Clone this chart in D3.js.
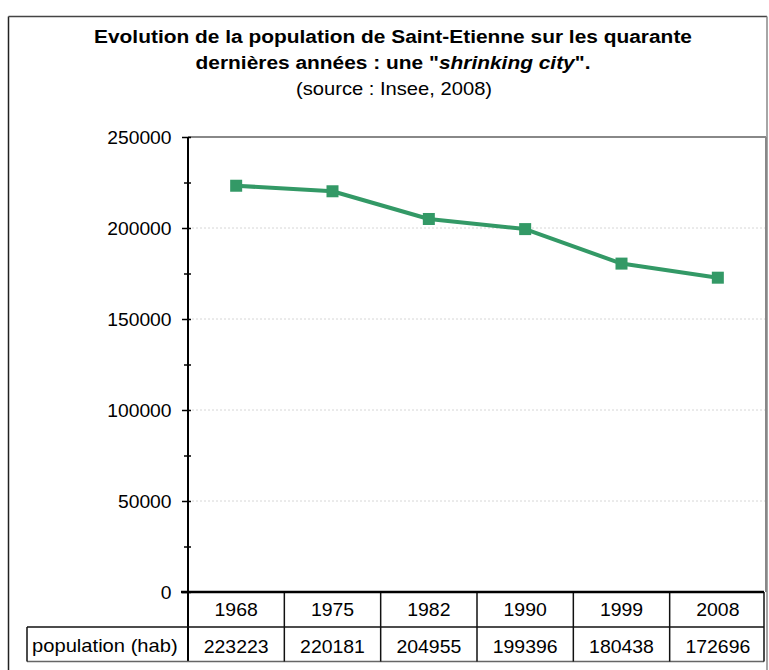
<!DOCTYPE html>
<html><head><meta charset="utf-8">
<script src="https://cdn.jsdelivr.net/npm/d3@7"></script>
<style>
html,body{margin:0;padding:0;background:#fff;}
svg{display:block;}
text{font-family:"Liberation Sans",Arial,sans-serif;fill:#000;}
</style></head>
<body>
<script>
const years = ["1968","1975","1982","1990","1999","2008"];
const population = [223223, 220181, 204955, 199396, 180438, 172696];
const yMajorTicks = [0, 50000, 100000, 150000, 200000, 250000];
const yMinorTicks = [25000, 75000, 125000, 175000, 225000];
const rowLabel = "population (hab)";
const titleLine1 = "Evolution de la population de Saint-Etienne sur les quarante";
const titleLine2a = "dernières années : une \"";
const titleLine2b = "shrinking city";
const titleLine2c = "\".";
const titleLine3 = "(source : Insee, 2008)";

const W = 769, H = 670, SX = 1.1;
const svg = d3.select("body").append("svg").attr("width", W).attr("height", H);

// outer chart border
svg.append("line").attr("x1", 8.5).attr("x2", 8.5).attr("y1", 16.5).attr("y2", H).attr("stroke", "#222").attr("stroke-width", 1.5);
svg.append("line").attr("x1", 8.5).attr("x2", 767).attr("y1", 16.5).attr("y2", 16.5).attr("stroke", "#444").attr("stroke-width", 1.5);
svg.append("line").attr("x1", 767).attr("x2", 767).attr("y1", 16.5).attr("y2", H).attr("stroke", "#888").attr("stroke-width", 1.5);

function txt(parent, x, y, s, opts = {}) {
  const t = parent.append("text")
    .attr("transform", `translate(${x},${y}) scale(${opts.sx || SX},1)`)
    .attr("text-anchor", opts.anchor || "middle")
    .style("font-size", (opts.size || 18) + "px")
    .style("font-weight", opts.weight || "normal");
  if (s !== null) t.text(s);
  return t;
}

// titles
txt(svg, 393, 43, titleLine1, {size: 19, weight: "bold", sx: 1.1});
const t2 = txt(svg, 393, 69, null, {size: 19, weight: "bold", sx: 1.1});
t2.append("tspan").text(titleLine2a);
t2.append("tspan").style("font-style", "italic").text(titleLine2b);
t2.append("tspan").text(titleLine2c);
txt(svg, 394, 95, titleLine3, {size: 18, sx: 1.12});

// scales
const pLeft = 188, pRight = 766, pTop = 137, pBottom = 592;
const x = d3.scaleBand().domain(years).range([pLeft, pRight]).padding(0);
const y = d3.scaleLinear().domain([0, 250000]).range([pBottom, pTop]);

// gridlines
svg.append("g").selectAll("line").data(yMajorTicks.filter(v => v > 0 && v < 250000)).join("line")
  .attr("x1", pLeft).attr("x2", pRight).attr("y1", d => y(d)).attr("y2", d => y(d))
  .attr("stroke", "#d6d6d6").attr("stroke-width", 1).attr("stroke-dasharray", "2,2");
// plot area border top/right
svg.append("line").attr("x1", pLeft).attr("x2", pRight).attr("y1", y(250000)).attr("y2", y(250000)).attr("stroke", "#888").attr("stroke-width", 2);
svg.append("line").attr("x1", pRight).attr("x2", pRight).attr("y1", y(250000)).attr("y2", pBottom).attr("stroke", "#888").attr("stroke-width", 2);

// y axis major
const gy = svg.append("g").attr("transform", `translate(${pLeft},0)`)
  .call(d3.axisLeft(y).tickValues(yMajorTicks).tickSize(6).tickFormat(d3.format("d")));
gy.attr("font-family", null).attr("font-size", null);
gy.select(".domain").remove();
gy.selectAll(".tick line").attr("x1", 3).attr("stroke", "#000").attr("stroke-width", 1.5);
gy.selectAll(".tick text").attr("x", null).attr("dy", null)
  .attr("transform", `translate(-16.5,6.5) scale(1.07,1)`)
  .style("font-size", "18px").attr("fill", "#000");
// y axis minor
const gym = svg.append("g").attr("transform", `translate(${pLeft},0)`)
  .call(d3.axisLeft(y).tickValues(yMinorTicks).tickSize(4).tickFormat(""));
gym.select(".domain").remove();
gym.selectAll(".tick line").attr("x1", 3).attr("stroke", "#000").attr("stroke-width", 1.5);
// y axis line (extends through table)
svg.append("line").attr("x1", pLeft).attr("x2", pLeft).attr("y1", pTop).attr("y2", 662).attr("stroke", "#000").attr("stroke-width", 2);

// table
const tbl = svg.append("g");
const tRight = 764, r1 = pBottom, r2 = 627, r3 = 661.5;
tbl.append("line").attr("x1", 27).attr("x2", tRight).attr("y1", r2).attr("y2", r2).attr("stroke", "#111").attr("stroke-width", 1.5);
tbl.append("line").attr("x1", 27).attr("x2", tRight).attr("y1", r3).attr("y2", r3).attr("stroke", "#666").attr("stroke-width", 1.5);
tbl.append("line").attr("x1", 27).attr("x2", 27).attr("y1", r2).attr("y2", r3).attr("stroke", "#111").attr("stroke-width", 1.5);
tbl.selectAll("line.col").data(years.slice(1)).join("line").attr("class", "col")
  .attr("x1", d => x(d)).attr("x2", d => x(d)).attr("y1", r1).attr("y2", r3)
  .attr("stroke", "#111").attr("stroke-width", 1.5);
tbl.append("line").attr("x1", tRight).attr("x2", tRight).attr("y1", r1).attr("y2", r3).attr("stroke", "#111").attr("stroke-width", 1.5);
years.forEach((yr, i) => {
  txt(tbl, x(yr) + x.bandwidth() / 2, 616, yr, {size: 18, sx: 1.08});
  txt(tbl, x(yr) + x.bandwidth() / 2, 652.5, String(population[i]), {size: 18, sx: 1.08});
});
txt(tbl, 32, 652, rowLabel, {size: 18, anchor: "start", sx: 1.12});

// x axis line (bottom of plot)
svg.append("line").attr("x1", 181).attr("x2", tRight).attr("y1", pBottom).attr("y2", pBottom).attr("stroke", "#000").attr("stroke-width", 2.5);

// series
const cx = d => x(d) + x.bandwidth() / 2;
const line = d3.line().x((d, i) => cx(years[i])).y(d => y(d));
svg.append("path").datum(population).attr("d", line)
  .attr("fill", "none").attr("stroke", "#339966").attr("stroke-width", 4).attr("stroke-linejoin", "round");
svg.append("g").selectAll("rect").data(population).join("rect")
  .attr("x", (d, i) => cx(years[i]) - 6).attr("y", d => y(d) - 6)
  .attr("width", 12).attr("height", 12).attr("fill", "#339966");
</script>
</body></html>
